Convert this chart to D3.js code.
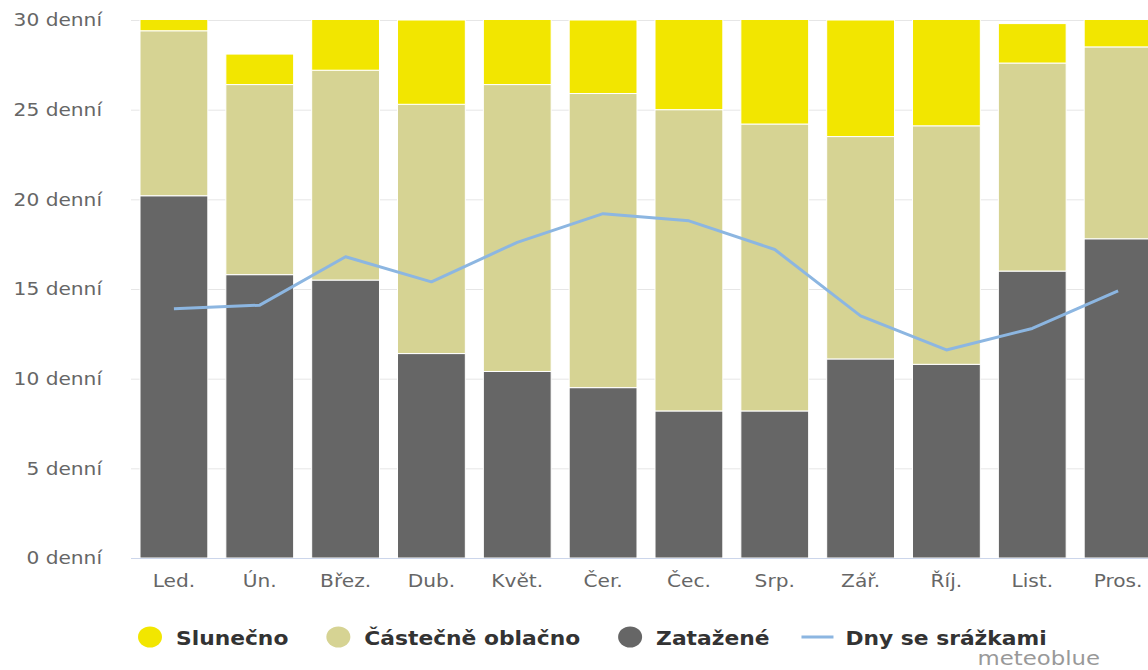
<html>
<head>
<meta charset="utf-8">
<script src="https://cdn.jsdelivr.net/npm/d3@7"></script>
<style>
  body { margin: 0; background: #fff; }
  text { font-family: "DejaVu Sans", sans-serif; }
</style>
</head>
<body>
<svg width="1148" height="670"></svg>
<script>
// monthly averages (days)
var months = ["Led.", "Ún.", "Břez.", "Dub.", "Květ.", "Čer.", "Čec.", "Srp.", "Zář.", "Říj.", "List.", "Pros."];
var zatazene = [20.2, 15.8, 15.5, 11.4, 10.4, 9.5, 8.2, 8.2, 11.1, 10.8, 16.0, 17.8];
var castecne = [9.2, 10.6, 11.7, 13.9, 16.0, 16.4, 16.8, 16.0, 12.4, 13.3, 11.6, 10.7];
var slunecno = [1.6, 1.7, 3.8, 4.7, 4.6, 4.1, 6.0, 6.8, 6.5, 6.9, 2.2, 2.5];
var srazky = [13.9, 14.1, 16.8, 15.4, 17.6, 19.2, 18.8, 17.2, 13.5, 11.6, 12.8, 14.9];
var yTicks = [0, 5, 10, 15, 20, 25, 30];

var colors = {zat: "#666666", cast: "#d6d393", slun: "#f2e600", line: "#8cb6e1"};

var svg = d3.select("svg");
var margin = {top: 20, left: 131, right: 1161, bottom: 558};
var stretch = "scale(1.12,1)";

var data = months.map(function(m, i) {
  return {month: m, zat: zatazene[i], cast: castecne[i], slun: slunecno[i]};
});

var x = d3.scaleBand()
  .domain(months)
  .range([margin.left, margin.right])
  .paddingInner(0.21)
  .paddingOuter(0.105);
var y = d3.scaleLinear()
  .domain([0, 30])
  .range([margin.bottom, margin.top]);

svg.append("clipPath").attr("id", "plotclip")
  .append("rect")
  .attr("x", margin.left).attr("y", margin.top)
  .attr("width", margin.right - margin.left)
  .attr("height", margin.bottom - margin.top);

// gridlines
svg.append("g")
  .selectAll("line")
  .data(yTicks.slice(1))
  .enter().append("line")
  .attr("x1", margin.left).attr("x2", 1148)
  .attr("y1", function(d) { return y(d) + 0.5; })
  .attr("y2", function(d) { return y(d) + 0.5; })
  .attr("stroke", "#e6e6e6");

// y labels
var yAxis = svg.append("g")
  .attr("transform", "translate(" + (margin.left - 29) + ",0)")
  .call(d3.axisLeft(y).tickValues(yTicks).tickSize(0).tickPadding(0)
    .tickFormat(function(d) { return d + " denní"; }));
yAxis.select(".domain").remove();
yAxis.selectAll("text")
  .attr("fill", "#666")
  .attr("font-size", "18px")
  .attr("font-family", "DejaVu Sans, sans-serif")
  .attr("transform", stretch);

// stacked bars
var stack = d3.stack().keys(["zat", "cast", "slun"]);
var series = stack(data);

svg.append("g")
  .attr("clip-path", "url(#plotclip)")
  .selectAll("g")
  .data(series)
  .enter().append("g")
  .attr("fill", function(s) { return colors[s.key]; })
  .selectAll("rect")
  .data(function(s) { return s; })
  .enter().append("rect")
  .attr("x", function(d) { return x(d.data.month); })
  .attr("y", function(d) { return y(d[1]); })
  .attr("width", x.bandwidth())
  .attr("height", function(d) { return y(d[0]) - y(d[1]); })
  .attr("stroke", "#fff")
  .attr("stroke-width", 1);

// x axis
var xAxis = svg.append("g")
  .attr("transform", "translate(0," + margin.bottom + ")")
  .call(d3.axisBottom(x).tickSize(0).tickPadding(16));
xAxis.select(".domain")
  .attr("stroke", "#ccd6eb")
  .attr("d", "M" + margin.left + ",0.5H1148");
xAxis.selectAll("text")
  .attr("fill", "#666")
  .attr("font-size", "18px")
  .attr("font-family", "DejaVu Sans, sans-serif")
  .attr("transform", stretch);

// precipitation line
var line = d3.line()
  .x(function(d, i) { return x(months[i]) + x.bandwidth() / 2; })
  .y(function(d) { return y(d); });
svg.append("path")
  .datum(srazky)
  .attr("d", line)
  .attr("fill", "none")
  .attr("stroke", colors.line)
  .attr("stroke-width", 3)
  .attr("stroke-linejoin", "round");

// legend
var legendItems = [
  {name: "Slunečno", color: colors.slun, type: "dot"},
  {name: "Částečně oblačno", color: colors.cast, type: "dot"},
  {name: "Zatažené", color: colors.zat, type: "dot"},
  {name: "Dny se srážkami", color: colors.line, type: "line"}
];
var legend = svg.append("g").attr("transform", "translate(0,637)");
var lx = 138;
legendItems.forEach(function(it) {
  var g = legend.append("g").attr("transform", "translate(" + lx + ",0)");
  if (it.type === "dot") {
    g.append("ellipse").attr("cx", 12).attr("cy", 0).attr("rx", 12).attr("ry", 10.5).attr("fill", it.color);
  } else {
    g.append("line").attr("x1", -6).attr("x2", 26).attr("y1", 0).attr("y2", 0)
      .attr("stroke", it.color).attr("stroke-width", 3);
  }
  var t = g.append("text")
    .attr("transform", "translate(38,8) scale(1.09,1)")
    .attr("font-size", "20px")
    .attr("font-weight", "bold")
    .attr("fill", "#333")
    .text(it.name);
  lx += 38 + t.node().getComputedTextLength() * 1.09 + 38;
});

svg.append("text")
  .attr("transform", "translate(1100,665) scale(1.14,1)")
  .attr("text-anchor", "end")
  .attr("font-size", "20px")
  .attr("fill", "#999")
  .text("meteoblue");
</script>
</body>
</html>
